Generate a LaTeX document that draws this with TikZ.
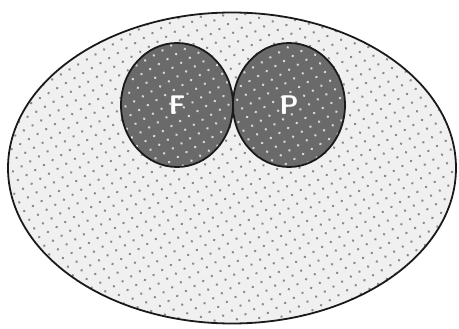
\documentclass[tikz,border=0pt]{standalone}
\usepackage{tikz}
\usetikzlibrary{shapes.geometric, patterns.meta}
\definecolor{outerFill}{HTML}{F0F0F0}
\definecolor{outerDot}{HTML}{8A8A8A}
\definecolor{innerFill}{HTML}{6A6A6A}
\definecolor{innerDot}{HTML}{D8D8D8}
\definecolor{setLine}{HTML}{1A1A1A}

\begin{document}
\begin{tikzpicture}[
  x=1pt, y=1pt,
  font=\sffamily,
  outerSetStyle/.style={ellipse, draw=setLine, line width=1.8pt,
    preaction={fill=outerFill},
    pattern={Dots[radius=1.4pt, distance=10pt, angle=30]}, pattern color=outerDot},
  innerSetStyle/.style={ellipse, draw=setLine, line width=1.8pt,
    preaction={fill=innerFill},
    pattern={Dots[radius=1.4pt, distance=10pt, angle=30]}, pattern color=innerDot,
    minimum width=112pt, minimum height=124pt, inner sep=0pt},
  setLabel/.style={text=white, font=\sffamily\bfseries\fontsize{27}{30}\selectfont}
]

\useasboundingbox (0,0) rectangle (459,-329);

% =========================================================
% OUTER SET
% =========================================================

\node[outerSetStyle, minimum width=448pt, minimum height=311pt, inner sep=0pt]
  (outerSet) at (232,-168) {};

% =========================================================
% INNER SETS
% =========================================================

\node[innerSetStyle] (fSet) at (177,-105) {};
\node[innerSetStyle] (pSet) at (289,-105) {};

\node[setLabel] (fLabel) at (fSet.center) {F};
\node[setLabel] (pLabel) at (pSet.center) {P};

\end{tikzpicture}
\end{document}
